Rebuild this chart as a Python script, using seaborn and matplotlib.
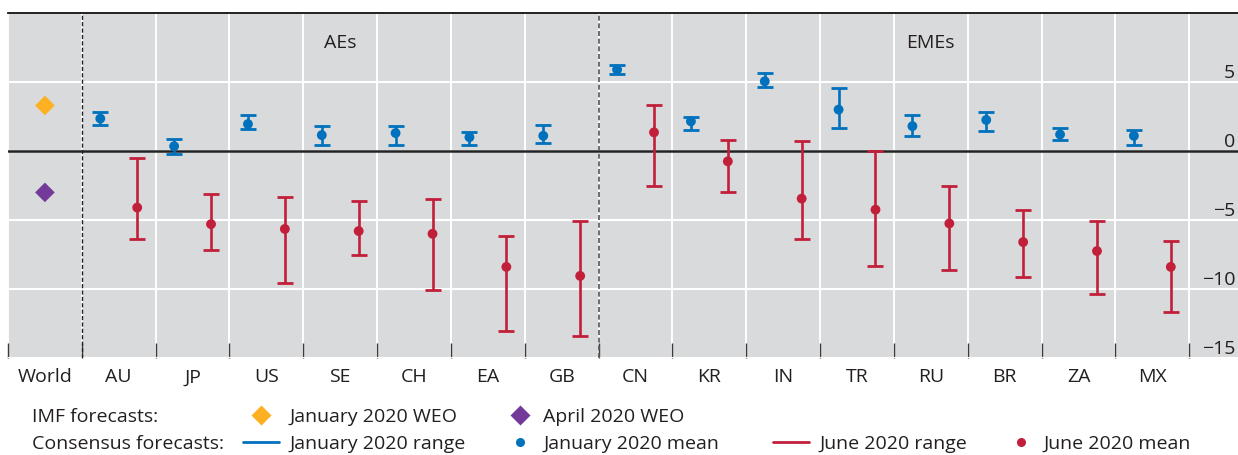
import numpy as np
import pandas as pd
import matplotlib
matplotlib.use("Agg")
import matplotlib.pyplot as plt
import seaborn as sns
from matplotlib.lines import Line2D

# ---- data -------------------------------------------------------------
world_label = "World"
countries = ["AU", "JP", "US", "SE", "CH", "EA", "GB",
             "CN", "KR", "IN", "TR", "RU", "BR", "ZA", "MX"]
group_labels = ["AEs", "EMEs"]

# IMF world growth forecasts (%)
weo_jan_world = 3.3
weo_apr_world = -3.0

# Consensus forecasts, January 2020 survey
jan_mean = [2.35, 0.35, 1.95, 1.15, 1.3, 1.0, 1.1, 5.9, 2.15, 5.05, 3.0, 1.8, 2.25, 1.2, 1.1]
jan_low = [1.9, -0.25, 1.6, 0.45, 0.45, 0.45, 0.55, 5.6, 1.55, 4.65, 1.65, 1.1, 1.45, 0.8, 0.45]
jan_high = [2.85, 0.85, 2.6, 1.8, 1.8, 1.4, 1.9, 6.2, 2.5, 5.65, 4.55, 2.6, 2.8, 1.7, 1.55]

# Consensus forecasts, June 2020 survey
jun_mean = [-4.1, -5.3, -5.65, -5.8, -6.0, -8.4, -9.05, 1.35, -0.75, -3.45, -4.25, -5.25, -6.6, -7.25, -8.4]
jun_low = [-6.35, -7.15, -9.55, -7.55, -10.05, -13.05, -13.4, -2.5, -3.0, -6.35, -8.35, -8.6, -9.15, -10.35, -11.7]
jun_high = [-0.5, -3.15, -3.3, -3.6, -3.5, -6.15, -5.1, 3.35, 0.8, 0.7, 0.0, -2.5, -4.25, -5.1, -6.55]

y_ticks = [5, 0, -5, -10, -15]

# ---- style ------------------------------------------------------------
BG = "#d9dadc"
BLUE = "#0071bc"
RED = "#c11f3a"
ORANGE = "#fcb022"
PURPLE = "#743a9a"
INK = "#231f20"
FS = 14

sns.set_theme(style="white")
plt.rcParams["font.family"] = ["Open Sans", "DejaVu Sans"]
plt.rcParams["axes.unicode_minus"] = True

W, H = 1238, 455
fig = plt.figure(figsize=(W / 100, H / 100), dpi=100)
ax = fig.add_axes([8 / W, (H - 358) / H, (W - 8) / W, (358 - 13) / H])
ax.set_facecolor(BG)

categories = [world_label] + countries
cat_pos = {c: i for i, c in enumerate(categories)}

# long table: one row per country and survey
jan = pd.DataFrame({"country": countries, "survey": "January 2020",
                    "mean": jan_mean, "low": jan_low, "high": jan_high, "shift": -0.25})
jun = pd.DataFrame({"country": countries, "survey": "June 2020",
                    "mean": jun_mean, "low": jun_low, "high": jun_high, "shift": 0.25})
df = pd.concat([jan, jun], ignore_index=True)
df["x"] = df["country"].map(cat_pos) + df["shift"]
palette = {"January 2020": BLUE, "June 2020": RED}

# ---- panels, grid, separators ----------------------------------------
ax.set_xlim(-0.5, 16.16)
ax.set_ylim(-15, 10)
ax.set_xticks(range(len(categories)))
ax.set_xticklabels(categories)
ax.set_xticks(np.arange(-0.5, len(categories), 1.0), minor=True)
ax.set_yticks(y_ticks)

ax.grid(False)
ax.grid(which="minor", axis="x", color="white", lw=1.4, zorder=0)
ax.grid(which="major", axis="y", color="white", lw=1.5, zorder=0)
ax.set_axisbelow(True)

ax.axhline(0, color="#222222", lw=1.8, zorder=2)
ax.axvline(0.5, color="#222222", lw=1.0, ls=(0, (3, 1.6)), zorder=2)
ax.axvline(7.5, color="#555555", lw=1.2, ls=(0, (3, 1.6)), zorder=2)

for s in ["left", "right", "bottom"]:
    ax.spines[s].set_visible(False)
ax.spines["top"].set_color("#111111")
ax.spines["top"].set_linewidth(1.3)

# ---- ranges and means -------------------------------------------------
for survey, sub in df.groupby("survey"):
    ax.errorbar(sub["x"], sub["mean"],
                yerr=[sub["mean"] - sub["low"], sub["high"] - sub["mean"]],
                fmt="none", ecolor=palette[survey], elinewidth=1.9,
                capsize=5.8, capthick=2.0, zorder=3)

sns.scatterplot(data=df, x="x", y="mean", hue="survey", palette=palette,
                s=50, edgecolor="none", linewidth=0, legend=False, ax=ax, zorder=4)

world = pd.DataFrame({"x": [cat_pos[world_label]] * 2,
                      "value": [weo_jan_world, weo_apr_world],
                      "release": ["January 2020 WEO", "April 2020 WEO"]})
sns.scatterplot(data=world, x="x", y="value", hue="release",
                palette={"January 2020 WEO": ORANGE, "April 2020 WEO": PURPLE},
                marker="D", s=100, edgecolor="none", linewidth=0,
                legend=False, ax=ax, zorder=4)

ax.text(4, 7.5, group_labels[0], ha="center", va="baseline", fontsize=FS, color=INK)
ax.text(12, 7.5, group_labels[1], ha="center", va="baseline", fontsize=FS, color=INK)

ax.set_xlabel("")
ax.set_ylabel("")

# ---- ticks ------------------------------------------------------------
ax.tick_params(axis="x", which="major", length=0, pad=7.5, labelsize=FS, labelcolor=INK)
ax.tick_params(axis="x", which="minor", direction="in", length=10.8, width=1.0,
               color="#3a3a3a", bottom=True, top=False)
ax.yaxis.tick_right()
ax.tick_params(axis="y", which="both", length=0, pad=-2, labelsize=FS, labelcolor=INK)
for lbl in ax.get_yticklabels():
    lbl.set_horizontalalignment("right")
    lbl.set_verticalalignment("bottom")

# ---- key --------------------------------------------------------------
px = FS * 100 / 72  # one em in pixels


def key_entry(handle, label, x_px, y_px, pad_px, hlen_px=36):
    fig.legend(handles=[handle], labels=[label], loc="center left",
               bbox_to_anchor=(x_px / W, 1 - y_px / H), frameon=False,
               borderpad=0, borderaxespad=0, fontsize=FS,
               handlelength=hlen_px / px, handletextpad=pad_px / px,
               labelcolor=INK)


row1, row2 = 416.5, 444
fig.text(32 / W, 1 - 422 / H, "IMF forecasts:", fontsize=FS, color=INK, va="baseline")
fig.text(32 / W, 1 - 449 / H, "Consensus forecasts:", fontsize=FS, color=INK, va="baseline")

key_entry(Line2D([], [], ls="none", marker="D", ms=10, color=ORANGE, mec="none"),
          "January 2020 WEO", 243, row1, 11)
key_entry(Line2D([], [], color=BLUE, lw=2.0),
          "January 2020 range", 243, row2, 11)
key_entry(Line2D([], [], ls="none", marker="D", ms=10, color=PURPLE, mec="none"),
          "April 2020 WEO", 502, row1, 5)
key_entry(Line2D([], [], ls="none", marker="o", ms=6.5, color=BLUE, mec="none"),
          "January 2020 mean", 502, row2, 5)
key_entry(Line2D([], [], color=RED, lw=2.0),
          "June 2020 range", 773, row2, 10)
key_entry(Line2D([], [], ls="none", marker="o", ms=6.5, color=RED, mec="none"),
          "June 2020 mean", 1003, row2, 4)

fig.savefig("out.png", dpi=100, facecolor="white")
